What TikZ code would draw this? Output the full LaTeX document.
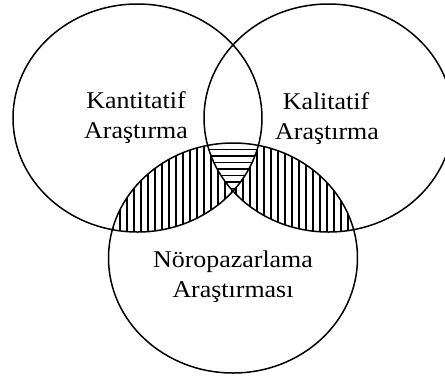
\documentclass[tikz,border=0pt]{standalone}
\usepackage{fontspec}
\setmainfont{Liberation Serif}
\begin{document}
\begin{tikzpicture}[x=1pt,y=-1pt,
  ring/.style={line width=1.5pt,draw=black},
  hatch/.style={line width=1.1pt,draw=black},
  lbl/.style={font=\fontsize{24}{30}\selectfont,align=center,xscale=1.08,inner sep=0pt,text=black}]
\useasboundingbox (0,0) rectangle (445,376);
% vertical hatching L∩B
\begin{scope}
  \clip (137.5,118) ellipse [x radius=124.5, y radius=114];
  \clip (233,258) ellipse [x radius=124.5, y radius=115];
  \foreach \x in {106,113,...,240} \draw[hatch] (\x,130) -- (\x,240);
\end{scope}
% vertical hatching R∩B
\begin{scope}
  \clip (328.5,118) ellipse [x radius=124.5, y radius=114];
  \clip (233,258) ellipse [x radius=124.5, y radius=115];
  \foreach \x in {229,236,...,362} \draw[hatch] (\x,130) -- (\x,240);
\end{scope}
% horizontal hatching L∩R∩B
\begin{scope}
  \clip (137.5,118) ellipse [x radius=124.5, y radius=114];
  \clip (328.5,118) ellipse [x radius=124.5, y radius=114];
  \clip (233,258) ellipse [x radius=124.5, y radius=115];
  \fill[white] (180,130) rectangle (290,200);
  \foreach \y in {143,149.5,...,195} \draw[hatch] (180,\y) -- (290,\y);
\end{scope}
\draw[ring] (137.5,118) ellipse [x radius=124.5, y radius=114];
\draw[ring] (328.5,118) ellipse [x radius=124.5, y radius=114];
\draw[ring] (233,258) ellipse [x radius=124.5, y radius=115];
\node[lbl,anchor=base] (kan1) at (136,108) {Kantitatif};
\node[lbl,anchor=base] (kan2) at (136,138) {Araştırma};
\node[lbl,anchor=base] (kal1) at (326,109) {Kalitatif};
\node[lbl,anchor=base] (kal2) at (327,139) {Araştırma};
\node[lbl,anchor=base] (nor1) at (233,267) {Nöropazarlama};
\node[lbl,anchor=base] (nor2) at (233,297) {Araştırması};
\end{tikzpicture}
\end{document}
